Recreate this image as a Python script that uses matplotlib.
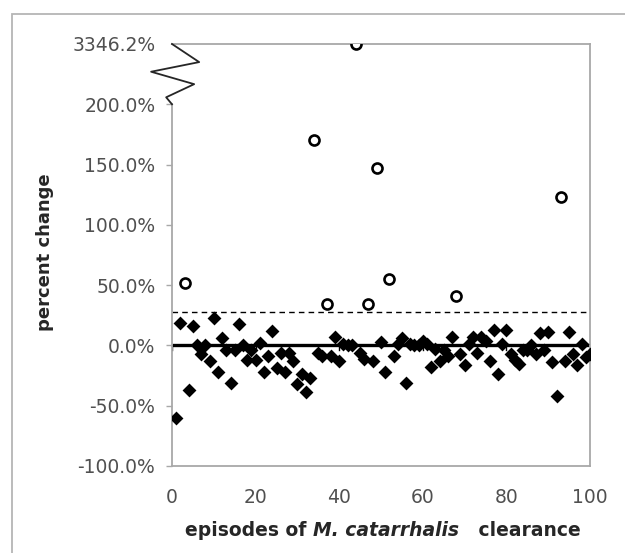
import matplotlib
matplotlib.use("Agg")
import matplotlib.pyplot as plt
from matplotlib.patches import Rectangle

# ---- data ----
diamond_x = [1, 2, 4, 5, 6, 7, 8, 9, 10, 11, 12, 13, 14, 15, 16, 17, 18, 19, 20,
             21, 22, 23, 24, 25, 26, 27, 28, 29, 30, 31, 32, 33, 35, 36, 38, 39, 40,
             41, 42, 43, 45, 46, 48, 50, 51, 53, 54, 55, 56, 57, 58, 59, 60,
             61, 62, 63, 64, 65, 66, 67, 69, 70, 71, 72, 73, 74, 75, 76, 77, 78, 79, 80,
             81, 82, 83, 84, 85, 86, 87, 88, 89, 90, 91, 92, 94, 95, 96, 97, 98, 99, 100]
diamond_y = [-60, 19, -37, 16, 0, -7, 0, -13, 23, -22, 6, -4, -31, -4, 18, 0, -12, -4, -12,
             2, -22, -9, 12, -19, -6, -22, -6, -13, -32, -24, -39, -27, -6, -9, -9, 7, -13,
             1.5, 0, 0, -6, -11, -13, 3, -22, -9, 1, 6, -31, 1, 0, 0, 4,
             1, -18, -3, -13, -4, -9, 7, -7, -16, 1, 7, -6, 7, 4, -13, 13, -24, 1.5, 13,
             -7, -12, -15, -4, -4, 0, -7, 10, -4, 11, -14, -42, -13, 11, -7, -16, 1, -10, -7]
circle_x = [3, 34, 37, 44, 47, 49, 52, 68, 93]
circle_y = [52, 170, 34, 3346.2, 34, 147.5, 55, 41, 123.5]
threshold = 28
y_ticks = [-100, -50, 0, 50, 100, 150, 200, 250]
y_tick_labels = ["-100.0%", "-50.0%", "0.0%", "50.0%", "100.0%", "150.0%", "200.0%", "3346.2%"]
x_ticks = [0, 20, 40, 60, 80, 100]
break_at = 200
top_pos = 250


def broken(v):
    return v if v <= break_at else top_pos


fig = plt.figure(figsize=(6.25, 5.53), dpi=100)
fig.patch.set_facecolor("white")
ax = fig.add_axes([172 / 625, 1 - 466 / 553, 418 / 625, 422 / 553])

grey = "#a8a8a8"
for s in ax.spines.values():
    s.set_color(grey)
    s.set_linewidth(1.3)
ax.spines["left"].set_bounds(-100, 200)

ax.set_xlim(0, 100)
ax.set_ylim(-100, 250)

# zero line and threshold
ax.plot([0, 100], [0, 0], color="black", lw=2.4, zorder=2, solid_capstyle="butt")
ax.plot([0, 100], [threshold, threshold], color="black", lw=1.0,
        dashes=(4, 3), zorder=2)
for xt in x_ticks:
    ax.plot([xt, xt], [0, -4], color="black", lw=1.0, zorder=2)

ax.scatter(diamond_x, diamond_y, marker="D", s=50, color="black", zorder=3, linewidths=0)
ax.scatter(circle_x, [broken(v) for v in circle_y], marker="o", s=52,
           facecolor="white", edgecolor="black", linewidths=1.9, zorder=3)

# axis break zigzag
zx = [0, -1.4, 5.3, -5.0, 6.5, 0]
zy = [200, 205.8, 216.7, 227, 235, 250]
ax.plot(zx, zy, color="#262626", lw=1.3, clip_on=False, zorder=4)

lab_col = "#505050"
ax.set_yticks(y_ticks)
ax.set_yticklabels(y_tick_labels)
ax.set_xticks(x_ticks)
ax.tick_params(axis="y", length=4, width=1.0, color=grey, labelsize=13.5,
               labelcolor=lab_col, pad=8)
ax.tick_params(axis="x", length=0, labelsize=13.5, labelcolor=lab_col, pad=16)
ax.yaxis.get_major_ticks()[-1].tick1line.set_visible(False)

# axis titles
title_col = "#262626"
fig.text(45.5 / 625, 1 - 252 / 553, "percent change", rotation=90, fontweight="bold",
         fontsize=13, ha="center", va="center", color=title_col)
t1 = fig.text(185 / 625, 1 - 530 / 553, "episodes of ", fontweight="bold",
              fontsize=13.5, ha="left", va="center", color=title_col)
t2 = ax.annotate("M. catarrhalis", xy=(1, 0), xycoords=t1, va="bottom", ha="left",
                 fontweight="bold", fontstyle="italic", fontsize=13.5, color=title_col,
                 annotation_clip=False)
t3 = ax.annotate("   clearance", xy=(1, 0), xycoords=t2, va="bottom", ha="left",
                 fontweight="bold", fontsize=13.5, color=title_col, annotation_clip=False)

# outer frame
fig.patches.append(Rectangle((12 / 625, -0.1), 2, (1 - 14 / 553) + 0.1,
                             transform=fig.transFigure, fill=False,
                             edgecolor="#b5b5b5", lw=1.3))

fig.savefig("out.png", dpi=100, facecolor="white")
